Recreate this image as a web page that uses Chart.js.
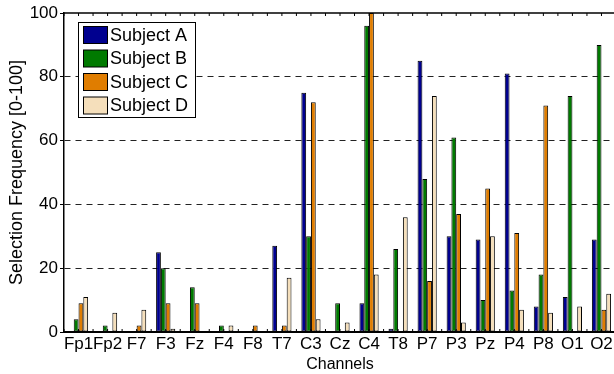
<!DOCTYPE html>
<html>
<head>
<meta charset="utf-8">
<script src="https://cdn.jsdelivr.net/npm/chart.js@4.4.1/dist/chart.umd.min.js"></script>
<style>
html,body{margin:0;padding:0;background:#fff;overflow:hidden;}
#wrap{width:620px;height:374px;position:relative;}
</style>
</head>
<body>
<div id="wrap"><canvas id="c" width="620" height="374"></canvas></div>
<script>
const channels = ["Fp1","Fp2","F7","F3","Fz","F4","F8","T7","C3","Cz","C4","T8","P7","P3","Pz","P4","P8","O1","O2"];
const subjectA = [0,0,0,25,0,0,0,27,75,0,9,1,85,30,29,81,8,11,29];
const subjectB = [4,2,0,20,14,2,0,0,30,9,96,26,48,61,10,13,18,74,90];
const subjectC = [9,0,2,9,9,0,2,2,72,0,100,0,16,37,45,31,71,0,7];
const subjectD = [11,6,7,1,0,2,0,17,4,3,18,36,74,3,30,7,6,8,12];
const seriesNames = ["Subject A","Subject B","Subject C","Subject D"];
const yTicks = [0,20,40,60,80,100];
const colors = ["#00008f","#007a00","#e07d00","#f5dfbb"];

const FONT = '"Liberation Sans", Arial, Helvetica, sans-serif';

const frame = {
  id: 'frame',
  afterDatasetsDraw(chart) {
    const {ctx, chartArea: a, scales} = chart;
    ctx.save();
    ctx.strokeStyle = '#000';
    ctx.lineWidth = 1.5;
    ctx.beginPath();
    ctx.moveTo(a.left, a.top); ctx.lineTo(a.right, a.top);
    ctx.stroke();
    ctx.lineWidth = 1;
    const xs = scales.x;
    const half = (xs.getPixelForValue(1) - xs.getPixelForValue(0)) / 2;
    for (let i = 0; i < channels.length; i++) {
      const c = xs.getPixelForValue(i);
      [c - half, c].forEach(p => {
        ctx.beginPath(); ctx.moveTo(p, a.top); ctx.lineTo(p, a.top + 3); ctx.stroke();
        ctx.beginPath(); ctx.moveTo(p, a.bottom); ctx.lineTo(p, a.bottom - 3); ctx.stroke();
      });
    }
    // legend
    const lx = 78, ly = 22, lw = 117, lh = 95;
    ctx.fillStyle = '#fff';
    ctx.fillRect(lx, ly, lw, lh);
    ctx.strokeStyle = '#000';
    ctx.lineWidth = 1;
    ctx.strokeRect(lx + 0.5, ly + 0.5, lw, lh);
    ctx.font = '18px ' + FONT;
    ctx.textBaseline = 'middle';
    chart.data.datasets.forEach((ds, i) => {
      const cy = ly + 13 + i * 23.5;
      ctx.fillStyle = ds.backgroundColor;
      ctx.fillRect(lx + 5, cy - 8.5, 24, 17);
      ctx.strokeRect(lx + 5.5, cy - 8.5, 24, 17);
      ctx.fillStyle = '#000';
      ctx.fillText(ds.label, lx + 32, cy + 1);
    });
    ctx.restore();
  }
};

new Chart(document.getElementById('c'), {
  type: 'bar',
  data: {
    labels: channels,
    datasets: [subjectA, subjectB, subjectC, subjectD].map((d, i) => ({
      label: seriesNames[i],
      data: d,
      backgroundColor: colors[i],
      borderColor: '#000',
      borderWidth: 1,
      borderSkipped: false,
      categoryPercentage: 0.66,
      barPercentage: 1.0
    }))
  },
  options: {
    responsive: false,
    animation: false,
    layout: {padding: {top: 13, right: 4, left: 0, bottom: 0}},
    plugins: {legend: {display: false}, tooltip: {enabled: false}},
    scales: {
      x: {
        grid: {display: false, drawTicks: false},
        border: {display: true, color: '#000', width: 2},
        ticks: {color: '#000', font: {size: 17, family: FONT}, padding: 2, autoSkip: false, maxRotation: 0},
        title: {display: true, text: 'Channels', color: '#000', font: {size: 16, family: FONT}, padding: {top: -3, bottom: 0}},
        afterFit(s) { s.height = 42; }
      },
      y: {
        min: 0, max: 100,
        afterBuildTicks(s) { s.ticks = yTicks.map(v => ({value: v})); },
        grid: {
          color: c => (c.tick && c.tick.value > 0 && c.tick.value < 100) ? '#222' : 'rgba(0,0,0,0)',
          tickColor: '#000',
          tickLength: 4,
          lineWidth: 1
        },
        border: {display: true, color: '#000', width: 1.5, dash: [6, 5]},
        ticks: {color: '#000', font: {size: 17, family: FONT}, padding: 2},
        title: {display: true, text: 'Selection Frequency [0-100]', color: '#000', font: {size: 18, family: FONT}, padding: {top: 6, bottom: 2}},
        afterFit(s) { s.width = 64; }
      }
    }
  },
  plugins: [frame]
});
</script>
</body>
</html>
